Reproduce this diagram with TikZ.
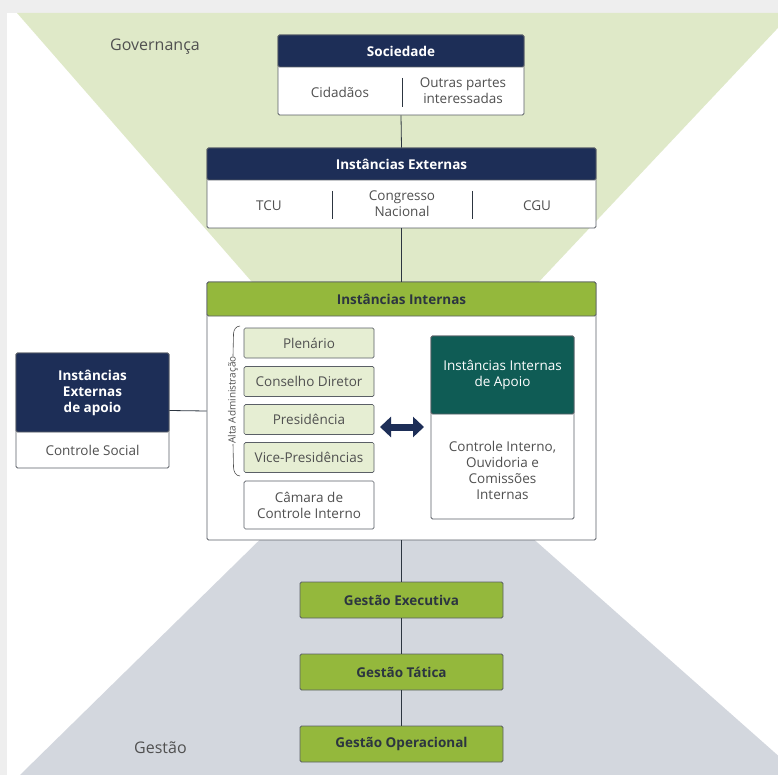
\documentclass[tikz,border=0pt]{standalone}
\usepackage{fontspec}
\setmainfont{Open Sans}
\usetikzlibrary{arrows.meta}
\definecolor{navy}{HTML}{1D2E57}
\definecolor{teal}{HTML}{0F5C55}
\definecolor{leaf}{HTML}{94B83C}
\definecolor{paleleaf}{HTML}{E6EED3}
\definecolor{govgreen}{HTML}{DFE9C8}
\definecolor{gesgray}{HTML}{D3D7DE}
\definecolor{outside}{HTML}{EEEEEE}
\definecolor{boxline}{HTML}{5A5F66}
\definecolor{txtgray}{HTML}{505050}
\definecolor{darktxt}{HTML}{2C3540}

\begin{document}
\begin{tikzpicture}[x=1pt, y=-1pt,
    outerbox/.style={draw=boxline, fill=white, line width=0.8pt, rounded corners=1.5pt, inner sep=0pt},
    navyhead/.style={draw=boxline, fill=navy, text=white, line width=0.8pt, rounded corners=1.5pt, inner sep=0pt, align=center, font=\bfseries\fontsize{13.5}{16}\selectfont},
    tealhead/.style={navyhead, fill=teal, font=\fontsize{13.5}{16}\selectfont},
    leafhead/.style={navyhead, fill=leaf, text=darktxt},
    smallbox/.style={draw=boxline, fill=paleleaf, line width=0.7pt, rounded corners=1.5pt, minimum width=130, inner sep=0pt, align=center, text=txtgray, font=\fontsize{13.5}{16}\selectfont},
    gestbox/.style={leafhead, minimum width=203, minimum height=36},
    bodytext/.style={align=center, text=txtgray, inner sep=0pt, font=\fontsize{13.5}{16}\selectfont},
    divider/.style={draw=darktxt, line width=0.9pt},
    link/.style={draw=darktxt, line width=0.8pt},
    twoway/.style={draw=navy, line width=7pt, {Triangle[length=11pt, width=20pt]}-{Triangle[length=11pt, width=20pt]}}]
\useasboundingbox (0,0) rectangle (778,775);
% page and the two triangles behind the chart
\fill[outside] (0,0) rectangle (778,775);
\fill[white] (7,13) rectangle (778,775);
\begin{scope}
  \clip (7,13) rectangle (778,775);
  \fill[govgreen] (17,13) -- (792,13) -- (390,440) -- cycle;
  \fill[gesgray] (390,412) -- (800,775) -- (20,775) -- cycle;
\end{scope}
\node[bodytext, font=\fontsize{16}{18}\selectfont, anchor=west] (gov) at (110,47) {Governança};
\node[bodytext, font=\fontsize{16}{18}\selectfont, anchor=west] (gest) at (134,748) {Gestão};

% Sociedade
\node[outerbox, minimum width=246, minimum height=80] (socbox) at (401,75) {};
\node[navyhead, minimum width=246, minimum height=32, anchor=north] (soc) at (socbox.north) {Sociedade};
\node[bodytext] (cid) at (340,92) {Cidadãos};
\node[bodytext] (outras) at (463,91) {Outras partes\\interessadas};
\draw[divider] (402,78) -- (402,107);

% Instancias Externas
\node[outerbox, minimum width=389, minimum height=80] (extbox) at (401.5,188) {};
\node[navyhead, minimum width=389, minimum height=32, anchor=north] (ext) at (extbox.north) {Instâncias Externas};
\node[bodytext] (tcu) at (269,206) {TCU};
\node[bodytext] (cn) at (402,204) {Congresso\\Nacional};
\node[bodytext] (cgu) at (537,206) {CGU};
\draw[divider] (332,191) -- (332,219);
\draw[divider] (472,191) -- (472,219);

% Instancias Internas
\node[outerbox, minimum width=389, minimum height=258] (intbox) at (401.5,411) {};
\node[leafhead, minimum width=389, minimum height=34, anchor=north] (int) at (intbox.north) {Instâncias Internas};
\node[smallbox, minimum height=30] (plen) at (309,343) {Plenário};
\node[smallbox, minimum height=30] (cons) at (309,381.5) {Conselho Diretor};
\node[smallbox, minimum height=30] (pres) at (309,419.5) {Presidência};
\node[smallbox, minimum height=30] (vice) at (309,457.5) {Vice-Presidências};
\node[smallbox, fill=white, minimum height=48] (cam) at (309,505) {Câmara de\\Controle Interno};
\node[bodytext, rotate=90, font=\fontsize{10}{12}\selectfont] (alta) at (233,400) {Alta Administração};
\draw[draw=txtgray, line width=0.6pt] (240,326) to[out=180, in=90] (233.5,334) -- (alta.east);
\draw[draw=txtgray, line width=0.6pt] (alta.west) -- (233.5,467) to[out=270, in=180] (240,476);

\node[outerbox, minimum width=143, minimum height=183] (apoiobox) at (502.5,427.5) {};
\node[tealhead, minimum width=143, minimum height=78, anchor=north] (apoio) at (apoiobox.north) {Instâncias Internas\\de Apoio};
\node[bodytext] (ctrl) at (502.5,470) {Controle Interno,\\Ouvidoria e\\Comissões\\Internas};
\coordinate (arrl) at (380,427);
\coordinate (arrr) at (424,427);
\draw[twoway] (arrl) -- (arrr);

% Instancias Externas de apoio
\node[outerbox, minimum width=153, minimum height=115] (soccbox) at (92.5,410.5) {};
\node[navyhead, minimum width=153, minimum height=79, anchor=north] (exta) at (soccbox.north) {Instâncias\\Externas\\de apoio};
\node[bodytext] (csoc) at (92.5,450) {Controle Social};

% Gestao
\node[gestbox] (gexe) at (401.5,600) {Gestão Executiva};
\node[gestbox] (gtat) at (401.5,672) {Gestão Tática};
\node[gestbox] (gope) at (401.5,744) {Gestão Operacional};

% connectors
\draw[link] (socbox.south) -- (extbox.north);
\draw[link] (extbox.south) -- (intbox.north);
\draw[link] (soccbox.east) -- (intbox.west);
\draw[link] (intbox.south) -- (gexe.north);
\draw[link] (gexe.south) -- (gtat.north);
\draw[link] (gtat.south) -- (gope.north);
\end{tikzpicture}
\end{document}
